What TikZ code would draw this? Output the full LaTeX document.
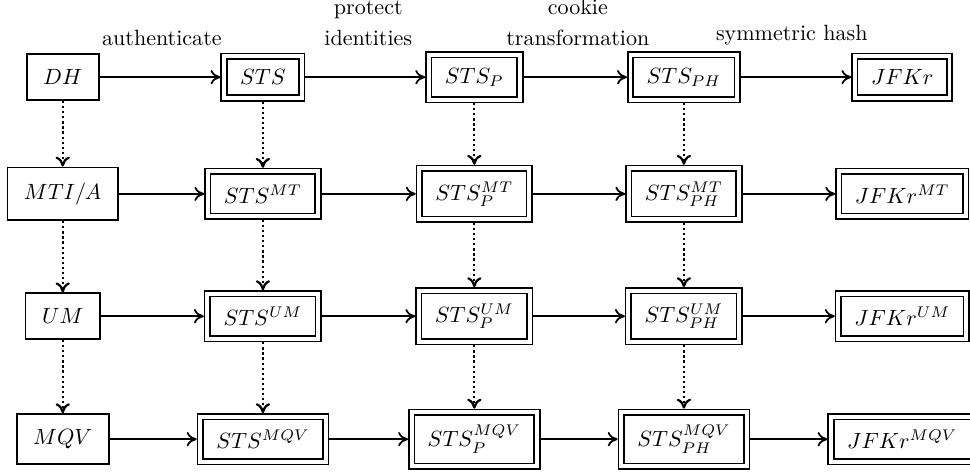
\documentclass[tikz,border=0pt]{standalone}
\usepackage{amsfonts, amssymb, amsmath}
\usetikzlibrary{arrows.meta}

\begin{document}
\begin{tikzpicture}[
    plain/.style={draw, line width=0.8pt, inner xsep=7.5pt, inner ysep=7pt},
    dbl/.style={draw, line width=0.75pt, double, double distance=1.75pt, inner xsep=7.3pt, inner ysep=6pt, outer sep=1.6pt},
    upgrade/.style={line width=0.8pt, -{To[length=4.5pt, width=6.5pt]}},
    extend/.style={line width=1pt, dash pattern=on 1pt off 1.3pt, -{To[length=4.5pt, width=6.5pt]}}
]
    \useasboundingbox (0, 0) rectangle (15.46, 7.54);

    % transformation labels
    \node[anchor=base] (auth) at (2.58, 6.82) {authenticate};
    \node[anchor=base] (prot) at (5.87, 7.31) {protect};
    \node[anchor=base] (ident) at (5.87, 6.82) {identities};
    \node[anchor=base] (cook) at (9.21, 7.31) {cookie};
    \node[anchor=base] (trans) at (9.21, 6.82) {transformation};
    \node[anchor=base] (symm) at (12.62, 6.89) {symmetric hash};

    % protocols
    \node[plain] (dh) at (1.00, 6.31) {$DH$};
    \node[dbl] (sts) at (4.19, 6.31) {$STS$};
    \node[dbl] (stsp) at (7.56, 6.31) {$STS_P$};
    \node[dbl] (stsph) at (10.90, 6.31) {$STS_{PH}$};
    \node[dbl] (jfkr) at (14.38, 6.31) {$JFKr$};

    \node[plain] (mti) at (1.00, 4.45) {$MTI/A$};
    \node[dbl] (stsmt) at (4.19, 4.45) {$STS^{MT}$};
    \node[dbl] (stspmt) at (7.56, 4.45) {$STS_P^{MT}$};
    \node[dbl] (stsphmt) at (10.90, 4.45) {$STS_{PH}^{MT}$};
    \node[dbl] (jfkrmt) at (14.38, 4.45) {$JFKr^{MT}$};

    \node[plain] (um) at (1.00, 2.50) {$UM$};
    \node[dbl] (stsum) at (4.19, 2.50) {$STS^{UM}$};
    \node[dbl] (stspum) at (7.56, 2.50) {$STS_P^{UM}$};
    \node[dbl] (stsphum) at (10.90, 2.50) {$STS_{PH}^{UM}$};
    \node[dbl] (jfkrum) at (14.38, 2.50) {$JFKr^{UM}$};

    \node[plain] (mqv) at (1.00, 0.54) {$MQV$};
    \node[dbl] (stsmqv) at (4.19, 0.54) {$STS^{MQV}$};
    \node[dbl] (stspmqv) at (7.56, 0.54) {$STS_P^{MQV}$};
    \node[dbl] (stsphmqv) at (10.90, 0.54) {$STS_{PH}^{MQV}$};
    \node[dbl] (jfkrmqv) at (14.38, 0.54) {$JFKr^{MQV}$};

    % horizontal steps
    \path (dh) edge[upgrade] (sts) (sts) edge[upgrade] (stsp)
          (stsp) edge[upgrade] (stsph) (stsph) edge[upgrade] (jfkr);
    \path (mti) edge[upgrade] (stsmt) (stsmt) edge[upgrade] (stspmt)
          (stspmt) edge[upgrade] (stsphmt) (stsphmt) edge[upgrade] (jfkrmt);
    \path (um) edge[upgrade] (stsum) (stsum) edge[upgrade] (stspum)
          (stspum) edge[upgrade] (stsphum) (stsphum) edge[upgrade] (jfkrum);
    \path (mqv) edge[upgrade] (stsmqv) (stsmqv) edge[upgrade] (stspmqv)
          (stspmqv) edge[upgrade] (stsphmqv) (stsphmqv) edge[upgrade] (jfkrmqv);

    % vertical extensions
    \path (dh) edge[extend] (mti) (mti) edge[extend] (um) (um) edge[extend] (mqv);
    \path (sts) edge[extend] (stsmt) (stsmt) edge[extend] (stsum) (stsum) edge[extend] (stsmqv);
    \path (stsp) edge[extend] (stspmt) (stspmt) edge[extend] (stspum) (stspum) edge[extend] (stspmqv);
    \path (stsph) edge[extend] (stsphmt) (stsphmt) edge[extend] (stsphum) (stsphum) edge[extend] (stsphmqv);
\end{tikzpicture}
\end{document}
